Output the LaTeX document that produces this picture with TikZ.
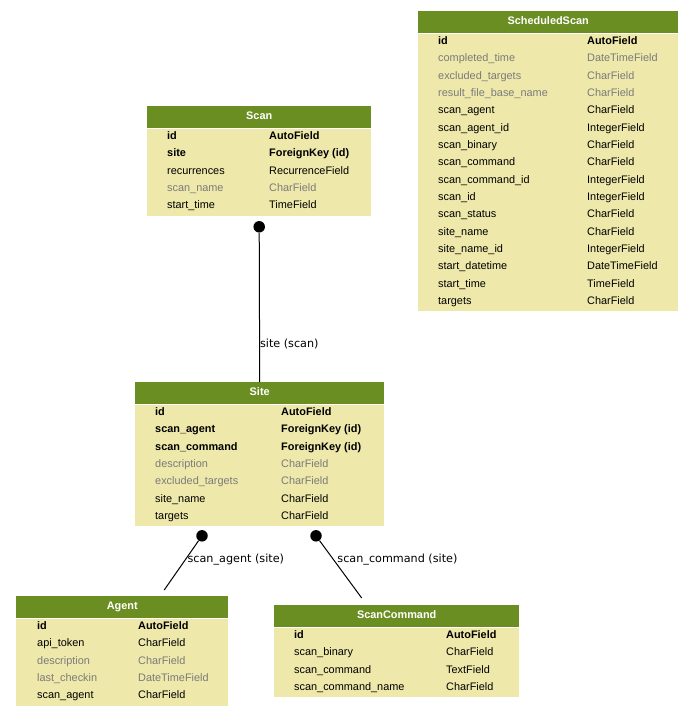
\documentclass[tikz,border=0pt]{standalone}
\usepackage{fontspec}
\setmainfont{Liberation Sans}
\newfontfamily\lblfont{DejaVu Sans}
\usetikzlibrary{positioning,calc}
\definecolor{hdrgreen}{HTML}{6B8E23}
\definecolor{tblyellow}{HTML}{EEE8AA}
\definecolor{fieldgray}{HTML}{7B7B7B}
\newcommand{\tblsize}{\fontsize{10.9}{13}\selectfont}

\begin{document}
\begin{tikzpicture}[x=1pt,y=-1pt,font=\tblsize]
\tikzstyle{hdr}=[fill=hdrgreen,text=white,font={\tblsize\bfseries},minimum height=22,inner sep=0pt,text height=7.7pt,text depth=2.3pt,anchor=north west]
\tikzstyle{tbl}=[fill=tblyellow,inner sep=0pt]
\tikzstyle{fld}=[inner sep=0pt,anchor=base west]
\tikzstyle{key}=[fld,font={\tblsize\bfseries}]
\tikzstyle{opt}=[fld,text=fieldgray]
\tikzstyle{std}=[fld]
\tikzstyle{dot}=[circle,fill,inner sep=0pt,minimum size=11.5]
\tikzstyle{link}=[line width=1pt]
\tikzstyle{lbl}=[font={\lblfont\fontsize{11.2}{13}\selectfont},inner sep=0pt,anchor=base west]
\useasboundingbox (0,0) rectangle (693,716);
% ScheduledScan
\node[hdr,minimum width=260] (schedH) at (418,11) {ScheduledScan};
\node[tbl,minimum width=260,minimum height=277,below=0pt of schedH] (sched) {};
\foreach \fn/\ty/\st [count=\i from 0] in {id/AutoField/key,completed\_time/DateTimeField/opt,
  excluded\_targets/CharField/opt,result\_file\_base\_name/CharField/opt,scan\_agent/CharField/std,
  scan\_agent\_id/IntegerField/std,scan\_binary/CharField/std,scan\_command/CharField/std,
  scan\_command\_id/IntegerField/std,scan\_id/IntegerField/std,scan\_status/CharField/std,
  site\_name/CharField/std,site\_name\_id/IntegerField/std,start\_datetime/DateTimeField/std,
  start\_time/TimeField/std,targets/CharField/std}
{ \node[\st] at ($(sched.north west)+(20,{11+17.33*\i})$) {\fn};
  \node[\st] at ($(sched.north west)+(169,{11+17.33*\i})$) {\ty}; }
% Scan
\node[hdr,minimum width=224] (scanH) at (147,106) {Scan};
\node[tbl,minimum width=224,minimum height=87,below=0pt of scanH] (scan) {};
\foreach \fn/\ty/\st [count=\i from 0] in {id/AutoField/key,site/ForeignKey (id)/key,
  recurrences/RecurrenceField/std,scan\_name/CharField/opt,start\_time/TimeField/std}
{ \node[\st] at ($(scan.north west)+(20,{11+17.33*\i})$) {\fn};
  \node[\st] at ($(scan.north west)+(122,{11+17.33*\i})$) {\ty}; }
% Site
\node[hdr,minimum width=249] (siteH) at (135,382) {Site};
\node[tbl,minimum width=249,minimum height=121,below=0pt of siteH] (site) {};
\foreach \fn/\ty/\st [count=\i from 0] in {id/AutoField/key,scan\_agent/ForeignKey (id)/key,
  scan\_command/ForeignKey (id)/key,description/CharField/opt,excluded\_targets/CharField/opt,
  site\_name/CharField/std,targets/CharField/std}
{ \node[\st] at ($(site.north west)+(20,{11+17.33*\i})$) {\fn};
  \node[\st] at ($(site.north west)+(146,{11+17.33*\i})$) {\ty}; }
% Agent
\node[hdr,minimum width=212] (agentH) at (16,596) {Agent};
\node[tbl,minimum width=212,minimum height=87,below=0pt of agentH] (agent) {};
\foreach \fn/\ty/\st [count=\i from 0] in {id/AutoField/key,api\_token/CharField/std,
  description/CharField/opt,last\_checkin/DateTimeField/opt,scan\_agent/CharField/std}
{ \node[\st] at ($(agent.north west)+(21,{11+17.33*\i})$) {\fn};
  \node[\st] at ($(agent.north west)+(122,{11+17.33*\i})$) {\ty}; }
% ScanCommand
\node[hdr,minimum width=245] (cmdH) at (274,605) {ScanCommand};
\node[tbl,minimum width=245,minimum height=69,below=0pt of cmdH] (cmd) {};
\foreach \fn/\ty/\st [count=\i from 0] in {id/AutoField/key,scan\_binary/CharField/std,
  scan\_command/TextField/std,scan\_command\_name/CharField/std}
{ \node[\st] at ($(cmd.north west)+(20,{11+17.33*\i})$) {\fn};
  \node[\st] at ($(cmd.north west)+(172,{11+17.33*\i})$) {\ty}; }
% relations
\node[dot] (scanPort) at ($(scan.south)+(0,11)$) {};
\draw[link] (scanPort) -- node[lbl,pos=0.77]{site (scan)} (siteH.north);
\node[dot] (agentPort) at ($(site.south west)+(67,10)$) {};
\coordinate (agentEnd) at ($(agentH.north)+(42,-6)$);
\draw[link] (agentPort) -- node[lbl,pos=0.45,xshift=4]{scan\_agent (site)} (agentEnd);
\node[dot] (cmdPort) at ($(site.south west)+(181,10)$) {};
\coordinate (cmdEnd) at ($(cmdH.north)+(-35,-7)$);
\draw[link] (cmdPort) -- node[lbl,pos=0.39,xshift=1]{scan\_command (site)} (cmdEnd);
\end{tikzpicture}
\end{document}
